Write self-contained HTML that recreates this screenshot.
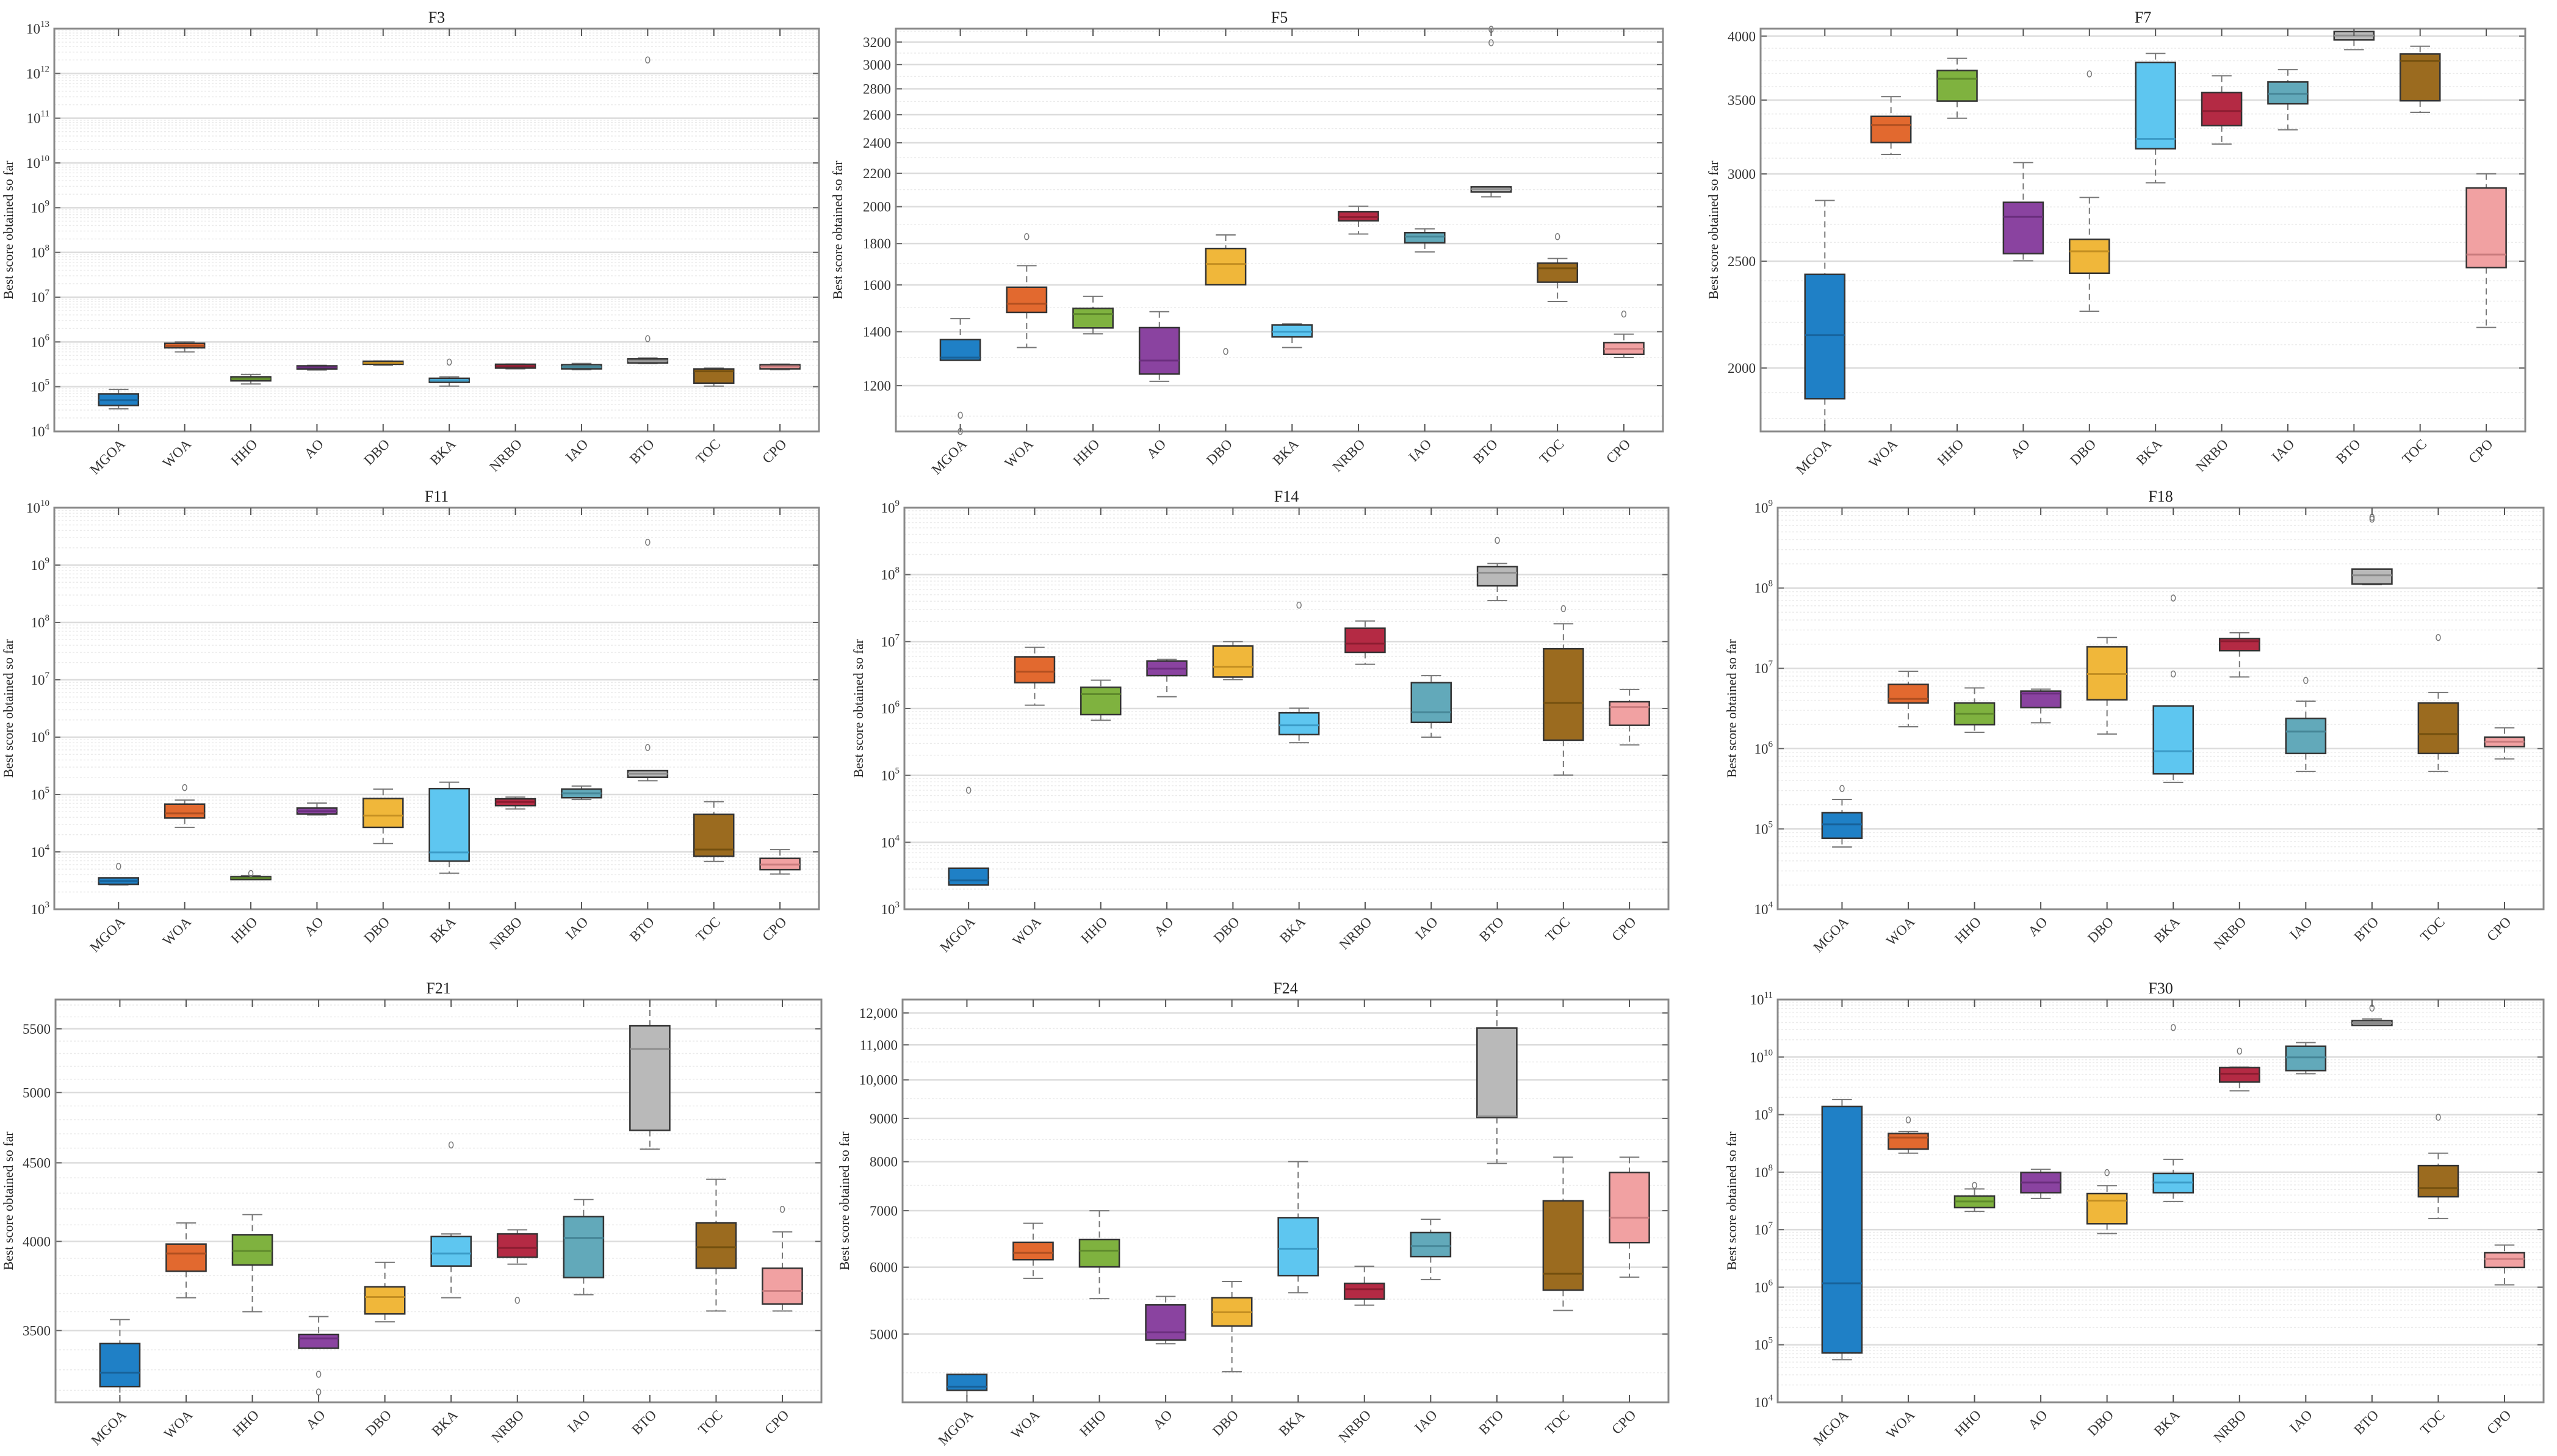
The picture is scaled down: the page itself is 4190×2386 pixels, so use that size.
<!DOCTYPE html>
<html>
<head>
<meta charset="utf-8">
<style>
html,body{margin:0;padding:0;background:#fff;}
svg{display:block;font-family:"Liberation Serif",serif;}
</style>
</head>
<body>
<svg id="chart" width="4190" height="2386" viewBox="0 0 4190 2386" xmlns="http://www.w3.org/2000/svg"></svg>
<script>
const categories = ["MGOA","WOA","HHO","AO","DBO","BKA","NRBO","IAO","BTO","TOC","CPO"];
const colors = ["#1f80c6","#e2692f","#7fb23f","#8a43a0","#f0b73a","#5ec6f0","#b42a44","#62a9ba","#b9b9b9","#9b6b1f","#f1a1a2"];
const medColors = ["#17629a","#b04f20","#5f8a2c","#6a2e7d","#c48f22","#3c9cc8","#8a1c30","#468697","#8e8e8e","#74500f","#c97c7e"];

// [min, q1, median, q3, max]
const f3Box = [[3.2e4,3.8e4,5e4,6.9e4,8.7e4],[6.0e5,7.4e5,8.2e5,9.3e5,1.0e6],[1.15e5,1.35e5,1.5e5,1.66e5,1.87e5],[2.35e5,2.49e5,2.7e5,2.92e5,3.0e5],[3.0e5,3.17e5,3.4e5,3.7e5,3.75e5],[1.03e5,1.25e5,1.38e5,1.54e5,1.66e5],[2.5e5,2.6e5,2.85e5,3.17e5,3.2e5],[2.4e5,2.5e5,2.75e5,3.1e5,3.3e5],[3.3e5,3.4e5,3.8e5,4.16e5,4.4e5],[1.03e5,1.2e5,2.2e5,2.49e5,2.6e5],[2.4e5,2.5e5,2.8e5,3.1e5,3.2e5]];
const f3Out = [[],[],[],[],[],[3.54e5],[],[],[1.18e6,2.0e12],[],[]];
const f5Box = [[1290,1290,1300,1369,1453],[1338,1479,1516,1589,1690],[1391,1415,1472,1496,1548],[1215,1241,1289,1416,1482],[1601,1601,1698,1775,1845],[1338,1379,1400,1427,1432],[1850,1921,1942,1971,2003],[1758,1804,1836,1857,1877],[2057,2086,2103,2116,2116],[1526,1612,1677,1702,1725],[1300,1312,1333,1357,1390]];
const f5Out = [[1103,1053],[1836],[],[],[1323],[],[],[],[3193,3318],[1836],[1472]];
const f7Box = [[1752,1876,2142,2432,2838],[3125,3203,3323,3383,3526],[3370,3493,3659,3723,3819],[2502,2540,2743,2827,3072],[2252,2438,2552,2617,2856],[2945,3162,3228,3787,3858],[3193,3318,3421,3555,3682],[3290,3473,3546,3635,3730],[3889,3969,4005,4039,4063],[3412,3495,3799,3854,3917],[2177,2467,2535,2913,3001]];
const f7Out = [[],[],[],[],[3697],[],[],[],[],[],[]];
const f11Box = [[2.65e3,2.72e3,3.1e3,3.53e3,3.53e3],[2.67e4,3.9e4,4.7e4,6.8e4,8.0e4],[3.3e3,3.3e3,3.5e3,3.7e3,3.85e3],[4.4e4,4.57e4,5.1e4,5.8e4,7.1e4],[1.4e4,2.67e4,4.3e4,8.5e4,1.24e5],[4.26e3,6.9e3,9.8e3,1.27e5,1.64e5],[5.6e4,6.4e4,7.4e4,8.4e4,9.0e4],[8.2e4,8.8e4,1.05e5,1.24e5,1.4e5],[1.74e5,2.0e5,2.3e5,2.6e5,2.6e5],[6.8e3,8.4e3,1.1e4,4.5e4,7.5e4],[4.1e3,4.9e3,6.0e3,7.7e3,1.1e4]];
const f11Out = [[5.6e3],[1.32e5],[4.2e3],[],[],[],[],[],[6.6e5,2.5e9],[],[]];
const f14Box = [[2.3e3,2.3e3,2.7e3,4.1e3,4.1e3],[1.12e6,2.43e6,3.54e6,5.9e6,8.2e6],[6.65e5,8.1e5,1.64e6,2.07e6,2.65e6],[1.5e6,3.1e6,3.94e6,5.1e6,5.4e6],[2.7e6,2.95e6,4.2e6,8.6e6,1.0e7],[3.08e5,4.07e5,5.6e5,8.6e5,1.01e6],[4.57e6,6.9e6,9.3e6,1.58e7,2.03e7],[3.73e5,6.2e5,8.8e5,2.43e6,3.1e6],[4.1e7,6.8e7,1.07e8,1.32e8,1.47e8],[1.01e5,3.36e5,1.21e6,7.8e6,1.84e7],[2.86e5,5.6e5,1.05e6,1.26e6,1.92e6]];
const f14Out = [[6.0e4],[],[],[],[],[3.5e7],[],[],[3.25e8],[3.1e7],[]];
const f18Box = [[5.96e4,7.65e4,1.14e5,1.59e5,2.33e5],[1.87e6,3.7e6,4.17e6,6.3e6,9.2e6],[1.6e6,1.99e6,2.72e6,3.7e6,5.7e6],[2.1e6,3.25e6,4.85e6,5.2e6,5.5e6],[1.52e6,4.06e6,8.5e6,1.85e7,2.42e7],[3.8e5,4.85e5,9.3e5,3.4e6,3.4e6],[7.8e6,1.66e7,2.17e7,2.35e7,2.77e7],[5.2e5,8.7e5,1.63e6,2.38e6,3.9e6],[1.1e8,1.12e8,1.44e8,1.72e8,1.72e8],[5.2e5,8.7e5,1.52e6,3.7e6,5.0e6],[7.45e5,1.06e6,1.22e6,1.39e6,1.82e6]];
const f18Out = [[3.19e5],[],[],[],[],[8.5e6,7.5e7],[],[7.06e6],[7.2e8,7.6e8],[2.42e7],[]];
const f21Box = [[3143,3218,3286,3432,3558],[3676,3825,3928,3984,4112],[3600,3861,3943,4040,4164],[3408,3408,3459,3479,3574],[3546,3588,3680,3737,3876],[3676,3855,3928,4030,4045],[3866,3906,3961,4045,4070],[3693,3789,4021,4151,4259],[4593,4724,5337,5525,5747],[3604,3842,3965,4112,4390],[3604,3642,3714,3842,4058]];
const f21Out = [[],[],[],[3278,3192],[],[4622],[3662],[],[],[],[4197]];
const f24Box = [[4152,4289,4333,4481,4481],[5821,6125,6240,6421,6764],[5508,6006,6277,6472,6998],[4870,4920,5025,5415,5541],[4512,5112,5306,5522,5772],[5598,5865,6310,6868,8002],[5411,5503,5650,5742,6016],[5801,6177,6357,6594,6839],[7962,9027,9050,11518,12446],[5333,5636,5895,7190,8098],[5840,6417,6868,7769,8098]];
const f24Out = [[],[],[],[],[],[],[],[],[],[],[]];
const f30Box = [[5.5e4,7.2e4,1.17e6,1.39e9,1.83e9],[2.14e8,2.52e8,4.0e8,4.7e8,5.1e8],[2.08e7,2.42e7,3.1e7,3.84e7,5.1e7],[3.5e7,4.4e7,6.6e7,9.9e7,1.12e8],[8.6e6,1.27e7,3.2e7,4.24e7,5.8e7],[3.1e7,4.4e7,6.6e7,9.5e7,1.67e8],[2.6e9,3.68e9,5.15e9,6.6e9,6.7e9],[5.15e9,5.83e9,9.9e9,1.54e10,1.79e10],[3.56e10,3.56e10,3.9e10,4.3e10,4.6e10],[1.56e7,3.74e7,5.3e7,1.3e8,2.14e8],[1.1e6,2.21e6,3.1e6,3.97e6,5.4e6]];
const f30Out = [[],[8.1e8],[5.9e7],[],[9.8e7],[3.26e10],[1.27e10],[],[7.1e10],[9.0e8],[]];

const f3Ticks = [4,5,6,7,8,9,10,11,12,13];
const f5Ticks = [1200,1400,1600,1800,2000,2200,2400,2600,2800,3000,3200];
const f7Ticks = [2000,2500,3000,3500,4000];
const f11Ticks = [3,4,5,6,7,8,9,10];
const f14Ticks = [3,4,5,6,7,8,9];
const f18Ticks = [4,5,6,7,8,9];
const f21Ticks = [3500,4000,4500,5000,5500];
const f24Ticks = [5000,6000,7000,8000,9000,10000,11000,12000];
const f30Ticks = [4,5,6,7,8,9,10,11];

const panels = [
 {name:"F3",L:89,R:1342,T:47,B:707,lo:1e4,hi:1e13,dec:true,ticks:f3Ticks,box:f3Box,out:f3Out},
 {name:"F5",L:1468,R:2725,T:47,B:707,lo:1053,hi:3324,dec:false,ticks:f5Ticks,minor:100,box:f5Box,out:f5Out},
 {name:"F7",L:2885,R:4138,T:47,B:707,lo:1752,hi:4063,dec:false,ticks:f7Ticks,minor:100,box:f7Box,out:f7Out},
 {name:"F11",L:89,R:1342,T:832,B:1490,lo:1e3,hi:1e10,dec:true,ticks:f11Ticks,box:f11Box,out:f11Out},
 {name:"F14",L:1482,R:2734,T:832,B:1490,lo:1e3,hi:1e9,dec:true,ticks:f14Ticks,box:f14Box,out:f14Out},
 {name:"F18",L:2913,R:4168,T:832,B:1490,lo:1e4,hi:1e9,dec:true,ticks:f18Ticks,box:f18Box,out:f18Out},
 {name:"F21",L:91,R:1346,T:1638,B:2298,lo:3143,hi:5747,dec:false,ticks:f21Ticks,minor:100,box:f21Box,out:f21Out},
 {name:"F24",L:1479,R:2734,T:1638,B:2298,lo:4152,hi:12446,dec:false,ticks:f24Ticks,minor:500,box:f24Box,out:f24Out},
 {name:"F30",L:2913,R:4168,T:1638,B:2298,lo:1e4,hi:1e11,dec:true,ticks:f30Ticks,box:f30Box,out:f30Out}
];

const svg = document.getElementById('chart');
const NS = "http://www.w3.org/2000/svg";
function mk(tag, attrs, parent){
  const e = document.createElementNS(NS, tag);
  for (const k in attrs) e.setAttribute(k, attrs[k]);
  parent.appendChild(e);
  return e;
}
function fmt(v){ return v>=10000 ? v.toLocaleString('en-US') : String(v); }

panels.forEach(p=>{
  const g = mk('g',{},svg);
  
  
  const W = p.R-p.L, H = p.B-p.T;
  const llo = Math.log(p.lo), lhi = Math.log(p.hi);
  const y = v => p.B - (Math.log(v)-llo)/(lhi-llo)*H;
  const x = i => p.L + W*(0.084 + i*0.0865);
  const bw = W*0.0865*0.6;

  // minor grid
  const grid = mk('g',{},g);
  
  
  if (p.dec){
    const d0 = Math.floor(Math.log10(p.lo)), d1 = Math.ceil(Math.log10(p.hi));
    for (let d=d0; d<d1; d++){
      for (let k=2;k<=9;k++){
        const v = k*Math.pow(10,d);
        if (v<=p.lo||v>=p.hi) continue;
        mk('line',{x1:p.L,x2:p.R,y1:y(v),y2:y(v),stroke:"#ebebeb","stroke-width":1.5,"stroke-dasharray":"3,3"},grid);
      }
    }
  } else {
    for (let v=Math.ceil(p.lo/p.minor)*p.minor; v<p.hi; v+=p.minor){
      mk('line',{x1:p.L,x2:p.R,y1:y(v),y2:y(v),stroke:"#ebebeb","stroke-width":1.5,"stroke-dasharray":"3,3"},grid);
    }
  }
  // major grid + y ticks
  const yt = mk('g',{},g);
  
  
  p.ticks.forEach(t=>{
    const v = p.dec ? Math.pow(10,t) : t;
    const yy = y(v);
    mk('line',{x1:p.L,x2:p.R,y1:yy,y2:yy,stroke:"#dcdcdc","stroke-width":2.5},grid);
    mk('line',{x1:p.L,x2:p.L+10,y1:yy,y2:yy,stroke:"#666","stroke-width":2},yt);
    mk('line',{x1:p.R-10,x2:p.R,y1:yy,y2:yy,stroke:"#666","stroke-width":2},yt);
    const tx = mk('text',{x:p.L-8,y:yy+8,"text-anchor":"end","font-size":23,fill:"#333"},yt);
    
    
    if (p.dec){
      tx.textContent = "10";
      const s = mk('tspan',{dy:-11,"font-size":15},tx);
      s.textContent = String(t);
    } else {
      tx.textContent = fmt(t);
    }
  });

  // boxes
  p.box.forEach((b,i)=>{
    const bg = mk('g',{},g);
    
    
    const cx = x(i);
    const clamp = v => Math.max(p.T, Math.min(p.B, y(v)));
    const yMin = clamp(b[0]), yQ1 = y(b[1]), yMed = y(b[2]), yQ3 = y(b[3]), yMax = clamp(b[4]);
    mk('line',{x1:cx,x2:cx,y1:yMax,y2:yQ3,stroke:"#777","stroke-width":2,"stroke-dasharray":"10,7"},bg);
    mk('line',{x1:cx,x2:cx,y1:yQ1,y2:yMin,stroke:"#777","stroke-width":2,"stroke-dasharray":"10,7"},bg);
    mk('line',{x1:cx-bw*0.25,x2:cx+bw*0.25,y1:yMax,y2:yMax,stroke:"#777","stroke-width":2},bg);
    mk('line',{x1:cx-bw*0.25,x2:cx+bw*0.25,y1:yMin,y2:yMin,stroke:"#777","stroke-width":2},bg);
    mk('rect',{x:cx-bw/2,y:yQ3,width:bw,height:Math.max(2,yQ1-yQ3),fill:colors[i],stroke:"#333","stroke-width":2.5},bg);
    mk('line',{x1:cx-bw/2,x2:cx+bw/2,y1:yMed,y2:yMed,stroke:medColors[i],"stroke-width":3},bg);
    p.out[i].forEach(o=>{
      const c = mk('ellipse',{cx:cx,cy:y(o),rx:3.5,ry:5,fill:"none",stroke:"#777","stroke-width":1.5},bg);
      
      
    });
  });

  // frame and x ticks
  const fr = mk('rect',{x:p.L,y:p.T,width:W,height:H,fill:"none",stroke:"#8a8a8a","stroke-width":3},g);
  
  
  const xt = mk('g',{},g);
  
  
  categories.forEach((c,i)=>{
    const cx = x(i);
    mk('line',{x1:cx,x2:cx,y1:p.B,y2:p.B-12,stroke:"#555","stroke-width":2},xt);
    mk('line',{x1:cx,x2:cx,y1:p.T,y2:p.T+12,stroke:"#555","stroke-width":2},xt);
    const t = mk('text',{x:cx+12,y:p.B+22,"text-anchor":"end","font-size":23,fill:"#333",transform:`rotate(-45 ${cx+12} ${p.B+22})`},xt);
    
    
    t.textContent = c;
  });

  const ti = mk('text',{x:(p.L+p.R)/2,y:p.T-10,"text-anchor":"middle","font-size":26,fill:"#222"},g);
  
  
  ti.textContent = p.name;

  const lx = p.L - (p.dec ? 68 : (p.name==="F24"||p.name==="F5" ? 88 : 70));
  const yl = mk('text',{x:lx,y:(p.T+p.B)/2,"text-anchor":"middle","font-size":22,fill:"#222",transform:`rotate(-90 ${lx} ${(p.T+p.B)/2})`},g);
  
  
  yl.textContent = "Best score obtained so far";
});
</script>
</body>
</html>
